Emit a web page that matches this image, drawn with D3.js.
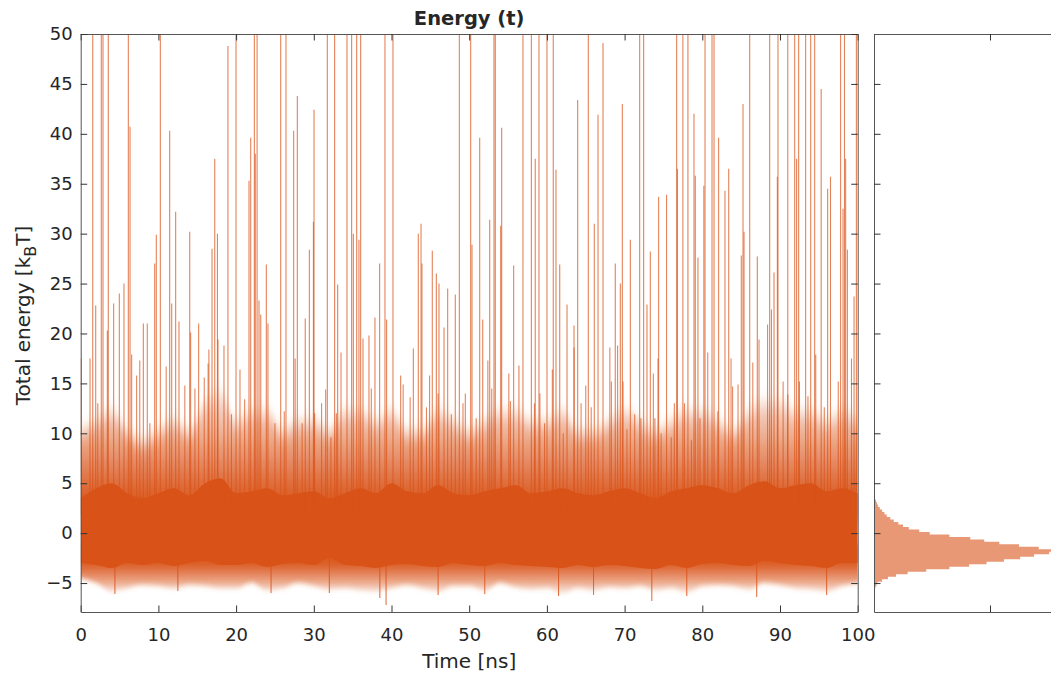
<!DOCTYPE html>
<html>
<head>
<meta charset="utf-8">
<script src="https://cdn.jsdelivr.net/npm/d3@7/dist/d3.min.js"></script>
<style>
  body { margin: 0; background: #fff; }
  text { font-family: "DejaVu Sans", sans-serif; fill: #262626; }
</style>
</head>
<body>
<div id="chart"></div>
<script>
// ---- data ----
// envelope of the dense band, sampled every 2 ns
const bandTimes = d3.range(0, 101, 2);
const coreHi = [3.5, 4.5, 5, 4, 3.5, 4, 4.5, 3.8, 5, 5.5, 4, 4.2, 4.5, 3.8, 4, 4.2, 3.5, 4, 4.5, 4, 5, 4.2, 4, 4.8, 4, 3.8, 4.2, 4.5, 4.8, 4, 4.2, 4.5, 4, 3.8, 4.2, 4.5, 4, 3.5, 4.2, 4.5, 4.8, 4.5, 4, 4.8, 5.2, 4.5, 4.8, 5, 4.2, 4.5, 4];
const fuzzHi = [10, 11, 12, 10, 9, 10, 11, 10, 13, 14, 11, 12, 12, 10, 11, 11, 10, 12, 12, 11, 12, 10, 10, 12, 11, 10, 11, 12, 12, 11, 11, 12, 10, 10, 11, 12, 11, 10, 11, 12, 12, 11, 10, 12, 13, 13, 12, 12, 11, 12, 11];
const coreLo = [-3, -3.2, -3.5, -3, -3.2, -3, -3.3, -3, -2.8, -3.2, -3.2, -3, -3.4, -3.1, -3, -3.2, -2.5, -3.2, -3.3, -3.5, -3.2, -3.1, -3.3, -3.4, -3, -3.2, -3.3, -3, -3.2, -3.3, -3.4, -3.5, -3.2, -3.4, -3.2, -3.3, -3.5, -3.6, -3.2, -3.5, -3.1, -3, -3.2, -3.3, -2.8, -3, -3.2, -3.3, -3.5, -3, -3];
const fuzzLo = [-4.5, -5, -5.8, -5.5, -5.2, -5.3, -5.5, -5.2, -5.3, -5.5, -5.5, -5, -5.7, -5.5, -5, -5.3, -5.6, -5.5, -5.7, -5.8, -5.5, -5.2, -5.5, -5.8, -5.3, -5.3, -5.7, -5, -5.4, -5.6, -5.5, -6, -5.5, -5.7, -5.4, -5.5, -5.3, -5.7, -5.5, -5.9, -5.3, -5.2, -5.3, -5.6, -5, -5.2, -5.5, -5.6, -5.8, -5.3, -5];

// tall isolated spikes: time [ns] and peak energy [kBT]
const spikeTimes = [0.05, 1.2, 1.55, 1.93, 2.65, 2.87, 3.43, 3.55, 4.24, 4.97, 5.57, 6.13, 6.35, 6.56, 7.2, 8.06, 8.57, 9.52, 9.73, 10.25, 11.45, 11.71, 12.22, 12.65, 14.03, 14.15, 15.18, 16.5,
  16.9, 17.25, 17.6, 18.44, 18.95, 19.99, 20.5, 21.66, 21.88, 22.35, 22.47, 22.7, 22.95, 23.17, 23.89, 24.1, 25.74, 26.42, 27.41, 27.88, 28.9, 29.43, 29.95, 30.03, 31.53, 31.74, 32.68, 33.07,
  34.27, 34.87, 35.09, 35.52, 35.81, 36.03, 36.33, 37.1, 37.87, 38.47, 39.16, 39.37, 40.19, 41.18, 42.81, 43.45, 43.8, 43.92, 45.25, 45.77, 46.11, 46.76, 47.23, 48.21, 48.73, 49.5,
  50.19, 50.36, 51.35, 51.74, 52.64, 53.19, 53.36, 54.05, 54.18, 55.72, 56.4, 56.92, 58.0, 58.5, 58.98, 60.01, 60.82, 61.17, 61.65, 62.59, 63.49, 63.96, 65.33, 66.1, 66.58,
  67.22, 68.8, 69.45, 69.71, 70.74, 71.94, 72.45, 72.88, 73.31, 74.3, 74.38, 75.4, 76.7, 76.8, 77.5, 78.15, 78.93, 79.1, 79.44, 80.2, 80.35, 81.25, 81.51, 82.1, 82.92, 83.4,
  85.02, 85.24, 85.37, 86.1, 87.08, 88.67, 89.23, 89.66, 89.74, 91.0, 91.89, 92.14, 92.4, 93.3, 93.95, 94.46, 95.3, 96.13, 96.5, 97.8, 98.11, 98.3, 98.45, 98.67, 99.53, 99.83];
const spikeTops = [17.5, 17.5, 50, 22.8, 50, 50, 20.3, 50, 23, 24, 25, 50, 40.7, 17.9, 15.8, 21, 21, 27, 29.9, 50, 40.3, 23, 32.2, 21.2, 30.2, 20.1, 21, 18.4,
  28.5, 37.5, 30, 18.8, 48.8, 50, 16.4, 35.3, 39.6, 50, 38, 50, 23.3, 21.9, 26.9, 21, 50, 50, 40.3, 43.8, 21.5, 28.4, 31.2, 42.4, 14.4, 50, 50, 24.9,
  50, 50, 30, 50, 29.4, 50, 19.5, 19.8, 21.6, 27, 50, 21.4, 50, 15.8, 18.5, 30, 31, 27, 28.3, 26, 25, 20.6, 24.5, 23.9, 50, 14,
  50, 28.9, 39.6, 21.4, 31.4, 50, 50, 30.8, 40.6, 26.8, 16.8, 50, 50, 37.5, 50, 50, 50, 36.4, 26.9, 22.9, 20.8, 43.4, 50, 31, 41.9,
  49.1, 27, 25, 43, 29.4, 50, 50, 22.9, 28.2, 17.5, 33.7, 33.9, 50, 36.5, 50, 50, 42, 35.8, 27.6, 34.8, 50, 50, 50, 39.6, 34.3, 36.5,
  27.8, 43, 30.2, 50, 27.7, 50, 26.1, 35.7, 50, 50, 50, 37.5, 50, 50, 50, 50, 44.5, 34.5, 35.7, 50, 32.5, 50, 37.5, 28.4, 23.7, 50];

// medium excursions inside the fringe above the band
const midTimes = [2.2, 7.6, 8.9, 11.0, 13.4, 14.7, 15.9, 16.4, 17.67, 19.4, 21.1, 25.0, 26.2, 27.6, 28.5, 30.1, 31.0, 32.2, 32.9,
  33.5, 37.4, 41.5, 42.4, 44.5, 44.9, 46.0, 47.7, 49.2, 50.9, 52.4, 52.9, 55.1, 55.3, 58.4, 59.1, 59.7, 60.7, 62.1, 63.5, 64.4, 65.0, 65.7,
  68.1, 68.3, 69.1, 69.8, 70.3, 71.3, 72.1, 73.7, 73.9, 74.7, 76.0, 76.4, 77.7, 78.6, 79.7, 80.7, 82.0,
  83.7, 83.9, 84.6, 86.5, 87.3, 88.4, 88.9, 90.4, 91.0, 92.5, 93.6, 94.6, 95.7, 97.5, 99.2];
const midTops = [13, 17.3, 11, 16.7, 14.8, 14.5, 15.6, 17, 19.4, 11.9, 13.4, 11, 12.2, 17.5, 11, 12, 13, 9.6, 12,
  18.1, 14.5, 14.9, 13.6, 12.6, 15.8, 14, 11.9, 13, 11.5, 17.3, 14.5, 16, 13.2, 13, 14, 11, 16.4, 10, 18.6, 13, 14.8, 12.6,
  18.6, 15.2, 18.8, 15.2, 10.4, 11.9, 11.5, 16, 11.5, 10, 9.6, 13, 13, 9.3, 11.5, 18.1, 12.2,
  17.5, 14.7, 14.9, 17.1, 19.4, 20.9, 22.4, 15.2, 13.9, 15.2, 13.7, 17.9, 12.6, 15.2, 17.5];

// downward excursions below the band
const dipTimes = [4.4, 12.5, 24.5, 32, 38.5, 39.3, 46, 52, 61.5, 66, 73.5, 78, 87, 96];
const dipValues = [-6.1, -5.8, -6, -6, -6.5, -7.2, -6.2, -6.1, -6.3, -6.2, -6.8, -6.3, -6.4, -6.2];

// histogram of energies (bin centre, frequency relative to the tick)
const histCenters = d3.range(-5.5, 3.51, 0.25);
const histCounts = [0.01, 0.02, 0.03, 0.07, 0.12, 0.19, 0.29, 0.45, 0.65, 0.82, 0.97, 1.12, 1.26, 1.38, 1.51, 1.55, 1.42, 1.25, 1.08, 0.95, 0.83, 0.65, 0.48, 0.39, 0.30, 0.25, 0.21, 0.17, 0.14, 0.11, 0.09, 0.07, 0.05, 0.035, 0.025, 0.017, 0.009];

const xTicks = d3.range(0, 101, 10);
const yTicks = d3.range(-5, 51, 5);

// ---- layout ----
const W = 1051, H = 677;
const main = { left: 80.7, right: 857.7, top: 34, bottom: 612 };
const side = { left: 874, right: 1106 };
const orange = "#D95319";

const svg = d3.select("#chart").append("svg")
  .attr("width", W).attr("height", H);

const x = d3.scaleLinear().domain([0, 100]).range([main.left, main.right]);
const y = d3.scaleLinear().domain([-7.9, 50]).range([main.bottom, main.top]);
const hx = d3.scaleLinear().domain([0, 2]).range([side.left, side.right]);

const defs = svg.append("defs");
defs.append("clipPath").attr("id", "clipMain")
  .append("rect")
  .attr("x", main.left).attr("y", main.top)
  .attr("width", main.right - main.left).attr("height", main.bottom - main.top);

// density of the thin excursions fades away from the solid band
const gradUp = defs.append("linearGradient")
  .attr("id", "fuzzUp").attr("gradientUnits", "userSpaceOnUse")
  .attr("x1", 0).attr("x2", 0).attr("y1", y(3.5)).attr("y2", y(14));
[[0, 0.95], [0.33, 0.7], [0.62, 0.45], [1, 0.18]].forEach(([o, a]) =>
  gradUp.append("stop").attr("offset", o).attr("stop-color", orange).attr("stop-opacity", a));

const gradDown = defs.append("linearGradient")
  .attr("id", "fuzzDown").attr("gradientUnits", "userSpaceOnUse")
  .attr("x1", 0).attr("x2", 0).attr("y1", y(-3)).attr("y2", y(-6));
[[0, 0.95], [0.45, 0.65], [1, 0.15]].forEach(([o, a]) =>
  gradDown.append("stop").attr("offset", o).attr("stop-color", orange).attr("stop-opacity", a));

// soften the outer envelope edges vertically
const addBlur = (id, sd) => defs.append("filter")
  .attr("id", id).attr("filterUnits", "userSpaceOnUse")
  .attr("x", 0).attr("y", 0).attr("width", W).attr("height", H)
  .append("feGaussianBlur").attr("stdDeviation", `0 ${sd}`);
addBlur("blurUp", 8);
addBlur("blurDown", 2.5);

const band = bandTimes.map((t, i) => ({ t, hi: coreHi[i], top: fuzzHi[i], lo: coreLo[i], bot: fuzzLo[i] }));

const plot = svg.append("g").attr("clip-path", "url(#clipMain)");

// lower fringe (runs under the core so the blur leaves no seam)
plot.append("path")
  .datum(band)
  .attr("d", d3.area().x(d => x(d.t)).y0(d => y(d.bot)).y1(d => y(d.lo + 2)).curve(d3.curveMonotoneX))
  .attr("fill", "url(#fuzzDown)")
  .attr("filter", "url(#blurDown)");

// upper fringe
plot.append("path")
  .datum(band)
  .attr("d", d3.area().x(d => x(d.t)).y0(d => y(d.hi - 3)).y1(d => y(d.top)).curve(d3.curveMonotoneX))
  .attr("fill", "url(#fuzzUp)")
  .attr("filter", "url(#blurUp)");

// solid core
plot.append("path")
  .datum(band)
  .attr("d", d3.area().x(d => x(d.t)).y0(d => y(d.lo)).y1(d => y(d.hi)).curve(d3.curveMonotoneX))
  .attr("fill", orange);

const drawLines = (cls, times, vals, base, opacity) => {
  plot.selectAll("." + cls)
    .data(times.map((t, i) => ({ t, v: vals[i] })))
    .enter().append("line")
    .attr("class", cls)
    .attr("x1", d => x(d.t)).attr("x2", d => x(d.t))
    .attr("y1", y(base)).attr("y2", d => y(d.v))
    .attr("stroke", orange)
    .attr("stroke-width", 1.1)
    .attr("stroke-opacity", opacity);
};
drawLines("mid", midTimes, midTops, 3, 0.7);
drawLines("spike", spikeTimes, spikeTops, 2, 0.72);
drawLines("dip", dipTimes, dipValues, -2, 0.8);

// ---- main axes (MATLAB box, ticks inward) ----
const tick = 6.5;
const styleAxis = g => {
  g.select(".domain").attr("stroke", "#555").attr("stroke-width", 1);
  g.selectAll(".tick line").attr("stroke", "#333");
  g.selectAll("text").style("font-size", "18px").attr("fill", "#262626");
};

svg.append("g")
  .attr("transform", `translate(0,${main.bottom})`)
  .call(d3.axisBottom(x).tickValues(xTicks).tickSizeInner(-tick).tickSizeOuter(0).tickPadding(16))
  .call(styleAxis);
svg.append("g")
  .attr("transform", `translate(0,${main.top})`)
  .call(d3.axisTop(x).tickValues(xTicks).tickSizeInner(-tick).tickSizeOuter(0).tickFormat(""))
  .call(styleAxis);
svg.append("g")
  .attr("transform", `translate(${main.left},0)`)
  .call(d3.axisLeft(y).tickValues(yTicks).tickSizeInner(-tick).tickSizeOuter(0).tickPadding(8))
  .call(styleAxis);
svg.append("g")
  .attr("transform", `translate(${main.right},0)`)
  .call(d3.axisRight(y).tickValues(yTicks).tickSizeInner(-tick).tickSizeOuter(0).tickFormat(""))
  .call(styleAxis);

// ---- side histogram (stairs outline, filled) ----
const binH = 0.25;
const stairs = [[0, histCenters[0] - binH / 2]];
histCenters.forEach((c, i) => {
  stairs.push([histCounts[i], c - binH / 2]);
  stairs.push([histCounts[i], c + binH / 2]);
});
stairs.push([0, histCenters[histCenters.length - 1] + binH / 2]);

svg.append("path")
  .datum(stairs)
  .attr("d", d3.line().x(d => hx(d[0])).y(d => y(d[1])))
  .attr("fill", "#E89875");

svg.append("g")
  .attr("transform", `translate(${side.left},0)`)
  .call(d3.axisLeft(y).tickValues(yTicks).tickSizeInner(-tick).tickSizeOuter(0).tickFormat(""))
  .call(styleAxis);
svg.append("g")
  .attr("transform", `translate(0,${main.bottom})`)
  .call(d3.axisBottom(hx).tickValues([1]).tickSizeInner(-tick).tickSizeOuter(0).tickFormat(""))
  .call(styleAxis);
svg.append("g")
  .attr("transform", `translate(0,${main.top})`)
  .call(d3.axisTop(hx).tickValues([1]).tickSizeInner(-tick).tickSizeOuter(0).tickFormat(""))
  .call(styleAxis);

// ---- titles ----
svg.append("text")
  .attr("x", (main.left + main.right) / 2).attr("y", 25)
  .attr("text-anchor", "middle")
  .style("font-size", "19.5px").style("font-weight", "bold")
  .text("Energy (t)");

svg.append("text")
  .attr("x", (main.left + main.right) / 2).attr("y", 668)
  .attr("text-anchor", "middle")
  .style("font-size", "20px")
  .text("Time [ns]");

const ylab = svg.append("text")
  .attr("transform", `translate(30,${y(21.8)}) rotate(-90)`)
  .attr("text-anchor", "middle")
  .style("font-size", "20px");
ylab.append("tspan").text("Total energy [k");
ylab.append("tspan").attr("dy", 6).style("font-size", "16px").text("B");
ylab.append("tspan").attr("dy", -6).text("T]");
</script>
</body>
</html>
